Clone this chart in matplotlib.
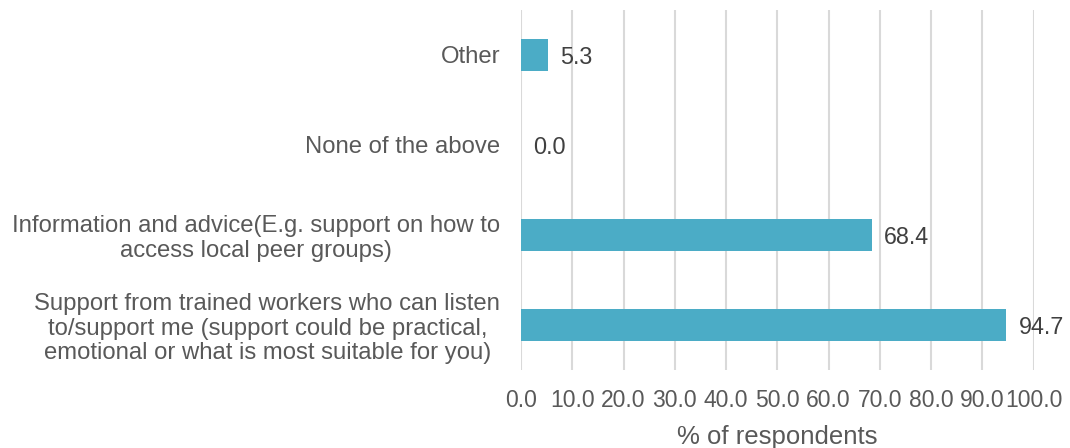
import matplotlib
matplotlib.use("Agg")
import matplotlib.pyplot as plt

categories = [
    "Support from trained workers who can listen\nto/support me (support could be practical,\nemotional or what is most suitable for you)",
    "Information and advice(E.g. support on how to\naccess local peer groups)",
    "None of the above",
    "Other",
]
values = [94.7, 68.4, 0.0, 5.3]
xticks = [0, 10, 20, 30, 40, 50, 60, 70, 80, 90, 100]

plt.rcParams['font.family'] = ['Liberation Sans', 'DejaVu Sans']
text_color = "#595959"
bar_color = "#4BACC6"

fig = plt.figure(figsize=(10.7, 4.48), dpi=100)
ax = fig.add_axes([0.487, 0.174, 0.479, 0.804])

y = list(range(len(categories)))
ax.barh(y, values, height=0.35, color=bar_color, zorder=3)
for yi, v in zip(y, values):
    ax.text(v + 2.4, yi - 0.03, f"{v:.1f}", va="center", ha="left", fontsize=16.8, color="#404040")

ax.set_xlim(0, 100)
ax.set_ylim(-0.5, 3.5)
ax.set_xticks(xticks)
ax.set_xticklabels([f"{t:.1f}" for t in xticks], fontsize=16.5, color=text_color)
ax.set_yticks(y)
ax.set_yticklabels(categories, fontsize=17.2, color=text_color, ha="right",
                   multialignment="center", linespacing=1.15)
ax.tick_params(axis="y", length=0, pad=15)
ax.tick_params(axis="x", length=0, pad=14)
ax.grid(axis="x", color="#D9D9D9", linewidth=1.5, zorder=0)
for s in ax.spines.values():
    s.set_visible(False)
ax.set_xlabel("% of respondents", fontsize=18.5, color=text_color, labelpad=9)

fig.savefig("out.png", dpi=100)
